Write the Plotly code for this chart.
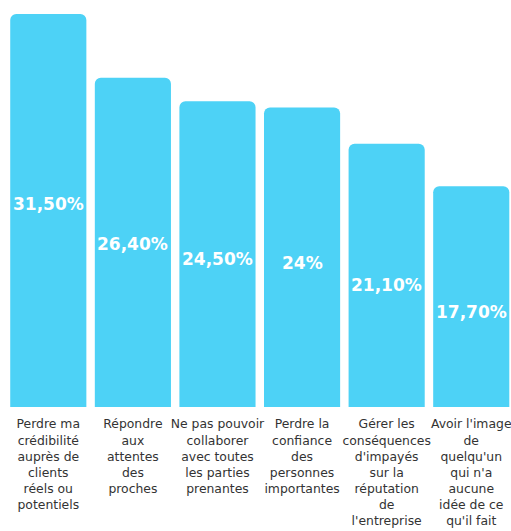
import plotly.graph_objects as go

# Survey answers, one bar per concern
categories = [
    "Perdre ma<br>crédibilité<br>auprès de<br>clients<br>réels ou<br>potentiels",
    "Répondre<br>aux<br>attentes<br>des<br>proches",
    "Ne pas pouvoir<br>collaborer<br>avec toutes<br>les parties<br>prenantes",
    "Perdre la<br>confiance<br>des<br>personnes<br>importantes",
    "Gérer les<br>conséquences<br>d'impayés<br>sur la<br>réputation<br>de<br>l'entreprise",
    "Avoir l'image<br>de<br>quelqu'un<br>qui n'a<br>aucune<br>idée de ce<br>qu'il fait",
]
values = [31.5, 26.4, 24.5, 24.0, 21.1, 17.7]
value_labels = ["31,50%", "26,40%", "24,50%", "24%", "21,10%", "17,70%"]

BAR_COLOR = "#4dd2f6"
xpos = list(range(len(values)))

fig = go.Figure(
    go.Bar(
        x=xpos,
        y=values,
        marker=dict(color=BAR_COLOR, line=dict(width=0)),
        width=0.9,
        hoverinfo="skip",
    )
)

# value labels sit a little below mid-height of each bar
for x, v, t in zip(xpos, values, value_labels):
    fig.add_annotation(
        x=x,
        y=0.629 * v - 3.53,
        text=t,
        showarrow=False,
        font=dict(family="DejaVu Sans", size=17, color="white", weight="bold"),
        xanchor="center",
        yanchor="middle",
    )

fig.update_layout(
    width=511,
    height=531,
    margin=dict(l=6, r=0, t=14, b=124, autoexpand=False),
    paper_bgcolor="white",
    plot_bgcolor="white",
    barcornerradius=6,
    showlegend=False,
    xaxis=dict(
        range=[-0.5, 5.47],
        tickvals=xpos,
        ticktext=categories,
        tickangle=0,
        automargin=False,
        ticklabeloverflow="allow",
        tickfont=dict(family="DejaVu Sans", size=12.4, color="#333333"),
        showgrid=False,
        zeroline=False,
        showline=False,
        ticks="",
        ticklabelstandoff=8,
    ),
    yaxis=dict(
        range=[0, 31.5],
        visible=False,
        automargin=False,
        showgrid=False,
        zeroline=False,
    ),
)

fig.write_html("out.html")
